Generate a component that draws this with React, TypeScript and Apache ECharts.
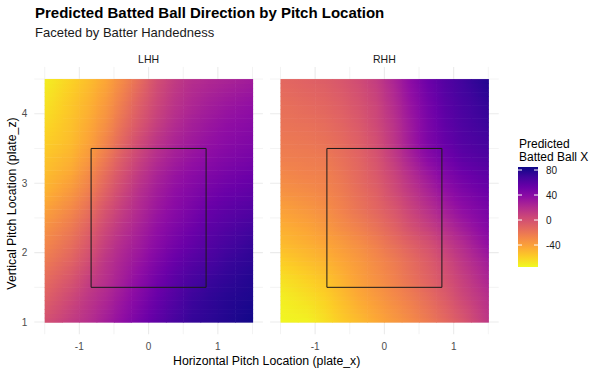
import React, { useEffect, useRef } from 'react';
import * as echarts from 'echarts';

// ---- data ----
const xCenters = [-1.375, -1.125, -0.875, -0.625, -0.375, -0.125, 0.125, 0.375, 0.625, 0.875, 1.125, 1.375];
const zCenters = [1.125, 1.375, 1.625, 1.875, 2.125, 2.375, 2.625, 2.875, 3.125, 3.375, 3.625, 3.875, 4.125, 4.375];
const cellHalf = 0.125;

// rows from bottom (z = 1.125) to top (z = 4.375)
const lhhValues = [
  [1, 9, 17, 26, 36, 47, 57, 65, 72, 75, 78, 81],
  [-5, 4, 14, 22, 32, 43, 54, 62, 70, 74, 77, 79],
  [-11, -3, 9, 18, 28, 39, 50, 59, 66, 71, 74, 77],
  [-18, -10, 2, 15, 25, 34, 45, 54, 61, 66, 71, 74],
  [-24, -16, -4, 10, 21, 30, 40, 49, 56, 62, 67, 71],
  [-30, -22, -10, 4, 16, 26, 36, 44, 51, 58, 62, 66],
  [-37, -29, -17, -2, 11, 22, 32, 40, 47, 54, 58, 61],
  [-44, -36, -24, -9, 6, 19, 29, 37, 43, 49, 53, 56],
  [-49, -43, -30, -15, 0, 14, 25, 33, 39, 44, 48, 51],
  [-53, -48, -37, -22, -6, 8, 20, 28, 34, 39, 43, 46],
  [-57, -52, -42, -28, -12, 3, 15, 24, 30, 35, 39, 42],
  [-60, -54, -45, -33, -17, -3, 10, 20, 27, 32, 36, 39],
  [-63, -56, -48, -37, -22, -7, 6, 16, 23, 28, 32, 35],
  [-66, -59, -51, -41, -27, -12, 3, 13, 20, 24, 27, 30],
];

const rhhValues = [
  [-72, -70, -64, -56, -49, -42, -35, -28, -20, -11, -1, 10],
  [-69, -65, -60, -52, -44, -37, -30, -23, -15, -6, 5, 14],
  [-64, -60, -55, -48, -40, -33, -26, -18, -10, -1, 9, 19],
  [-57, -53, -49, -43, -37, -30, -23, -15, -7, 3, 14, 24],
  [-50, -47, -43, -38, -32, -25, -17, -9, -1, 10, 20, 31],
  [-45, -42, -37, -31, -25, -18, -10, 0, 9, 19, 29, 38],
  [-39, -36, -32, -26, -19, -12, -4, 7, 17, 28, 37, 44],
  [-33, -31, -28, -23, -16, -9, 2, 13, 24, 35, 44, 50],
  [-28, -26, -25, -20, -13, -5, 6, 19, 31, 43, 51, 56],
  [-24, -23, -22, -17, -11, -2, 11, 26, 40, 50, 58, 62],
  [-21, -20, -18, -14, -8, 1, 14, 30, 45, 55, 62, 66],
  [-18, -17, -15, -11, -5, 4, 16, 31, 46, 57, 64, 69],
  [-16, -14, -12, -8, -2, 6, 19, 34, 48, 59, 66, 71],
  [-13, -11, -9, -5, 1, 9, 22, 37, 51, 61, 68, 74],
];

const facetLabels = ['LHH', 'RHH'];
const xTicks = [-1, 0, 1];
const zTicks = [1, 2, 3, 4];
const xGridValues = [-1.5, -1, -0.5, 0, 0.5, 1, 1.5];
const zGridValues = [1, 1.5, 2, 2.5, 3, 3.5, 4, 4.5];
const legendTicks = [-40, 0, 40, 80];
const legendMin = -75;
const legendMax = 85;
const strikeZoneX = [-0.83, 0.83];
const strikeZoneZ = [1.5, 3.5];

// plasma, dark -> bright
const plasma = ['#0d0887', '#41049d', '#6a00a8', '#8f0da4', '#b12a90', '#cc4778', '#e16462', '#f2844b', '#fca636', '#fcce25', '#f0f921'];
const lowToHigh = plasma.slice().reverse();

const FONT = '"Liberation Sans", Arial, sans-serif';
const SUB_ROWS = 4;

function cellData(values: number[][]) {
  const out: number[][] = [];
  values.forEach((row, r) => row.forEach((v, c) => out.push([xCenters[c], zCenters[r], v])));
  return out;
}

// value of the field between cell centres (fractional row / column index), for smooth shading
function fieldAt(vals: number[][], rr: number, cc: number) {
  const nr = vals.length;
  const nc = vals[0].length;
  const r0 = Math.min(Math.max(Math.floor(rr), 0), nr - 2);
  const c0 = Math.min(Math.max(Math.floor(cc), 0), nc - 2);
  const fr = rr - r0;
  const fc = cc - c0;
  const a = vals[r0][c0];
  const b = vals[r0][c0 + 1];
  const d = vals[r0 + 1][c0];
  const e = vals[r0 + 1][c0 + 1];
  return (a * (1 - fc) + b * fc) * (1 - fr) + (d * (1 - fc) + e * fc) * fr;
}

function colorOf(v: number) {
  const t = Math.min(Math.max((v - legendMin) / (legendMax - legendMin), 0), 1);
  return echarts.color.lerp(t, lowToHigh) as string;
}

const makeCellRender = (vals: number[][]) => (params: any, api: any) => {
  const idx = params.dataIndex;
  const nc = vals[0].length;
  const r = Math.floor(idx / nc);
  const c = idx % nc;
  const x = api.value(0);
  const z = api.value(1);
  const children: any[] = [];
  const step = (2 * cellHalf) / SUB_ROWS;
  for (let k = 0; k < SUB_ROWS; k++) {
    const zb = z - cellHalf + k * step;
    const p1 = api.coord([x - cellHalf, zb + step]);
    const p2 = api.coord([x + cellHalf, zb]);
    const rr = r - 0.5 + (k + 0.5) / SUB_ROWS;
    const stops = [
      { offset: 0, color: colorOf(fieldAt(vals, rr, c - 0.5)) },
      { offset: 0.5, color: colorOf(fieldAt(vals, rr, c)) },
      { offset: 1, color: colorOf(fieldAt(vals, rr, c + 0.5)) },
    ];
    children.push({
      type: 'rect',
      shape: { x: p1[0], y: p1[1], width: p2[0] - p1[0] + 0.6, height: p2[1] - p1[1] + 0.6 },
      style: { fill: new echarts.graphic.LinearGradient(0, 0, 1, 0, stops) },
    });
  }
  return { type: 'group', children };
};

const vLineRender = (params: any, api: any) => {
  const v = api.value(0);
  const x = api.coord([v, api.value(1)])[0];
  const cs = params.coordSys;
  return {
    type: 'line',
    shape: { x1: x, y1: cs.y, x2: x, y2: cs.y + cs.height },
    style: { stroke: '#ebebeb', lineWidth: Number.isInteger(v) ? 1.1 : 0.6 },
  };
};

const hLineRender = (params: any, api: any) => {
  const v = api.value(1);
  const y = api.coord([api.value(0), v])[1];
  const cs = params.coordSys;
  return {
    type: 'line',
    shape: { x1: cs.x, y1: y, x2: cs.x + cs.width, y2: y },
    style: { stroke: '#ebebeb', lineWidth: Number.isInteger(v) ? 1.1 : 0.6 },
  };
};

const strikeZone = () => [
  [strikeZoneX[0], strikeZoneZ[0]],
  [strikeZoneX[1], strikeZoneZ[0]],
  [strikeZoneX[1], strikeZoneZ[1]],
  [strikeZoneX[0], strikeZoneZ[1]],
  [strikeZoneX[0], strikeZoneZ[0]],
];

export default function App() {
  const ref = useRef<HTMLDivElement>(null);

  useEffect(() => {
    document.body.style.margin = '0';
    if (!ref.current) return;
    const chart = echarts.init(ref.current, undefined, { renderer: 'svg' });

    const gridW = 228.6;
    const grids = [
      { left: 34.3, top: 66.9, width: gridW, height: 267.3 },
      { left: 270.1, top: 66.9, width: gridW, height: 267.3 },
      { left: 518, top: 166.9, width: 20, height: 100 },
    ];

    const xAxisBase = (i: number) => ({
      gridIndex: i,
      type: 'value',
      min: -1.65,
      max: 1.65,
      axisLine: { show: false },
      axisTick: { show: false },
      splitLine: { show: false },
      axisLabel: { customValues: xTicks, margin: 7, color: '#4d4d4d', fontSize: 10, fontFamily: FONT },
    });
    const yAxisBase = (i: number, labels: boolean) => ({
      gridIndex: i,
      type: 'value',
      min: 0.825,
      max: 4.675,
      axisLine: { show: false },
      axisTick: { show: false },
      splitLine: { show: false },
      axisLabel: { show: labels, customValues: zTicks, margin: 7, color: '#4d4d4d', fontSize: 10, fontFamily: FONT },
    });

    const series: any[] = [];
    [lhhValues, rhhValues].forEach((vals, i) => {
      series.push({
        type: 'custom',
        xAxisIndex: i,
        yAxisIndex: i,
        z: 2,
        silent: true,
        renderItem: makeCellRender(vals),
        data: cellData(vals),
      });
    });
    [0, 1].forEach((i) => {
      series.push({
        type: 'custom', xAxisIndex: i, yAxisIndex: i, z: 1, silent: true,
        renderItem: vLineRender,
        data: xGridValues.map((v) => [v, zGridValues[0]]),
      });
      series.push({
        type: 'custom', xAxisIndex: i, yAxisIndex: i, z: 1, silent: true,
        renderItem: hLineRender,
        data: zGridValues.map((v) => [xGridValues[0], v]),
      });
      series.push({
        type: 'line', xAxisIndex: i, yAxisIndex: i, z: 4, silent: true,
        symbol: 'none',
        lineStyle: { color: '#1a1a1a', width: 1 },
        data: strikeZone(),
      });
    });
    // colour bar
    series.push({
      type: 'custom', xAxisIndex: 2, yAxisIndex: 2, silent: true, z: 2,
      renderItem: (params: any) => {
        const cs = params.coordSys;
        return {
          type: 'rect',
          shape: { x: cs.x, y: cs.y, width: cs.width, height: cs.height },
          style: {
            fill: new echarts.graphic.LinearGradient(0, 0, 0, 1,
              plasma.map((c, k) => ({ offset: k / (plasma.length - 1), color: c }))),
          },
        };
      },
      data: [[0.5, legendMin]],
    });
    series.push({
      type: 'custom', xAxisIndex: 2, yAxisIndex: 2, silent: true, z: 3,
      renderItem: (params: any, api: any) => {
        const cs = params.coordSys;
        const y = api.coord([0.5, api.value(1)])[1];
        return {
          type: 'group',
          children: [
            { type: 'line', shape: { x1: cs.x, y1: y, x2: cs.x + 4, y2: y }, style: { stroke: '#ffffff', lineWidth: 1 } },
            { type: 'line', shape: { x1: cs.x + cs.width - 4, y1: y, x2: cs.x + cs.width, y2: y }, style: { stroke: '#ffffff', lineWidth: 1 } },
          ],
        };
      },
      data: legendTicks.map((v) => [0.5, v]),
    });

    const text = (t: string, x: number, y: number, size: number, opts: any = {}) => ({
      type: 'text',
      x,
      y,
      silent: true,
      rotation: opts.rotation || 0,
      style: {
        text: t,
        fill: opts.color || '#000000',
        font: `${opts.bold ? 'bold ' : ''}${size}px ${FONT}`,
        align: opts.align || 'left',
        verticalAlign: 'middle',
      },
    });

    const option: any = {
      animation: false,
      backgroundColor: '#ffffff',
      grid: grids,
      xAxis: [
        xAxisBase(0),
        xAxisBase(1),
        { gridIndex: 2, type: 'value', min: 0, max: 1, show: false },
      ],
      yAxis: [
        yAxisBase(0, true),
        yAxisBase(1, false),
        {
          gridIndex: 2, type: 'value', min: legendMin, max: legendMax, position: 'right',
          axisLine: { show: false }, axisTick: { show: false }, splitLine: { show: false },
          axisLabel: { customValues: legendTicks, margin: 8, color: '#1a1a1a', fontSize: 10, fontFamily: FONT },
        },
      ],
      series,
      graphic: [
        text('Predicted Batted Ball Direction by Pitch Location', 35, 12.1, 15, { bold: true }),
        text('Faceted by Batter Handedness', 35, 32.8, 13, { color: '#1a1a1a' }),
        text(facetLabels[0], 148.6, 58.8, 10.5, { align: 'center', color: '#1a1a1a' }),
        text(facetLabels[1], 384.4, 58.8, 10.5, { align: 'center', color: '#1a1a1a' }),
        text('Horizontal Pitch Location (plate_x)', 266.7, 360.7, 12.3, { align: 'center' }),
        text('Vertical Pitch Location (plate_z)', 12, 203.5, 12.3, { align: 'center', rotation: Math.PI / 2 }),
        text('Predicted', 519, 143.6, 12),
        text('Batted Ball X', 519, 156.6, 12),
      ],
    };

    chart.setOption(option);
    return () => chart.dispose();
  }, []);

  return <div ref={ref} style={{ width: 599, height: 370 }} />;
}
